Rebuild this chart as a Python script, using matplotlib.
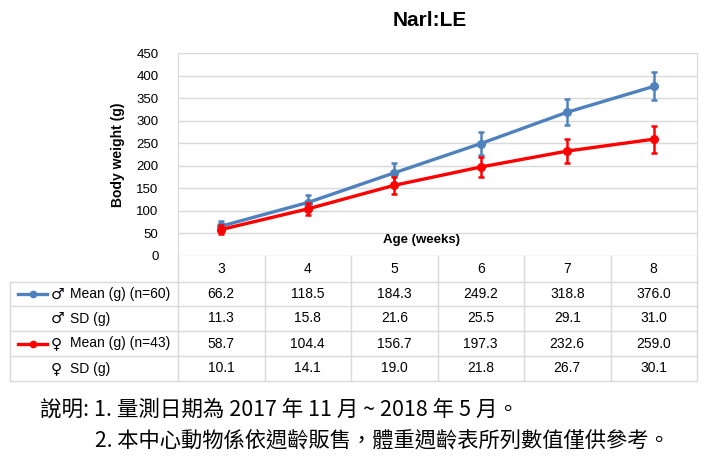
import matplotlib
matplotlib.use("Agg")
import matplotlib.pyplot as plt
from matplotlib.lines import Line2D
import matplotlib.transforms as mtransforms

# 資料
weeks = [3, 4, 5, 6, 7, 8]
male_mean = [66.2, 118.5, 184.3, 249.2, 318.8, 376.0]
male_sd = [11.3, 15.8, 21.6, 25.5, 29.1, 31.0]
female_mean = [58.7, 104.4, 156.7, 197.3, 232.6, 259.0]
female_sd = [10.1, 14.1, 19.0, 21.8, 26.7, 30.1]
row_symbols = ["\u2642", "\u2642", "\u2640", "\u2640"]
row_labels = ["Mean (g) (n=60)", "SD (g)", "Mean (g) (n=43)", "SD (g)"]
notes = ["說明: 1. 量測日期為 2017 年 11 月 ~ 2018 年 5 月。",
         "2. 本中心動物係依週齡販售，體重週齡表所列數值僅供參考。"]

BLUE = "#4f81bd"
RED = "#ff0000"
GRID = "#d9d9d9"
W, H = 705, 474

plt.rcParams['font.family'] = ['Liberation Sans', 'DejaVu Sans']

fig = plt.figure(figsize=(W / 100, H / 100), dpi=100)
fig.patch.set_facecolor('white')

# 圖區位置 (像素 -> 圖座標)
L, R, T, B = 178, 697, 53, 256
ax = fig.add_axes([L / W, 1 - B / H, (R - L) / W, (B - T) / H])

x = list(range(len(weeks)))
ax.errorbar(x, male_mean, yerr=male_sd, color=BLUE, lw=2.4, marker='o', ms=5.5,
            capsize=2.5, elinewidth=1.8, capthick=1.8, zorder=3)
ax.errorbar(x, female_mean, yerr=female_sd, color=RED, lw=2.4, marker='o', ms=5.5,
            capsize=2.5, elinewidth=1.8, capthick=1.8, zorder=4)

ax.set_xlim(-0.5, len(weeks) - 0.5)
ax.set_ylim(0, 450)
ax.set_yticks(range(0, 451, 50))
ax.yaxis.grid(True, color=GRID, lw=1)
ax.set_axisbelow(True)
ax.set_xticks([])
ax.tick_params(axis='y', length=0, labelsize=9.5, pad=14)
for s in ['top', 'bottom']:
    ax.spines[s].set_visible(False)
for s in ['left', 'right']:
    ax.spines[s].set_color(GRID)

ax.set_ylabel("Body weight (g)", fontsize=10, fontweight='bold', labelpad=8)
ax.text(0.47, 0.08, "Age (weeks)", transform=ax.transAxes, ha='center', va='center',
        fontsize=9.5, fontweight='bold')
fig.text(430 / W, 1 - 20 / H, "Narl:LE", ha='center', va='center', fontsize=15, fontweight='bold')

# 表格 (x 依資料座標, y 依像素)
def fy(py):
    return 1 - py / H

trans = mtransforms.blended_transform_factory(ax.transData, fig.transFigure)
row_edges = [256, 282, 306, 331, 356, 381]
line_kw = dict(color=GRID, lw=1, transform=fig.transFigure, clip_on=False)

for yy in row_edges[1:]:
    fig.add_artist(Line2D([10 / W, R / W], [fy(yy), fy(yy)], **line_kw))
fig.add_artist(Line2D([10 / W, 10 / W], [fy(282), fy(381)], **line_kw))
fig.add_artist(Line2D([L / W, L / W], [fy(B), fy(381)], **line_kw))
fig.add_artist(Line2D([R / W, R / W], [fy(B), fy(381)], **line_kw))
for i in range(1, len(weeks)):
    fig.add_artist(Line2D([i - 0.5, i - 0.5], [fy(B), fy(381)], color=GRID, lw=1,
                          transform=trans, clip_on=False))

centers = [(row_edges[k] + row_edges[k + 1]) / 2 for k in range(5)]
for i, wk in enumerate(weeks):
    fig.text(i, fy(centers[0]), str(wk), transform=trans, ha='center', va='center', fontsize=10)
table_rows = [male_mean, male_sd, female_mean, female_sd]
for r, vals in enumerate(table_rows):
    for i, v in enumerate(vals):
        fig.text(i, fy(centers[r + 1]), f"{v:.1f}", transform=trans, ha='center', va='center',
                 fontsize=10)
    # 性別符號用 DejaVu Sans 顯示
    fig.text(51 / W, fy(centers[r + 1]), row_symbols[r], ha='left', va='center', fontsize=11,
             family=['DejaVu Sans'])
    fig.text(70 / W, fy(centers[r + 1]), row_labels[r], ha='left', va='center', fontsize=10)

for r, c in [(0, BLUE), (2, RED)]:
    yy = fy(centers[r + 1])
    fig.add_artist(Line2D([18 / W, 47 / W], [yy, yy], color=c, lw=2.4, transform=fig.transFigure))
    fig.add_artist(Line2D([32.5 / W], [yy], color=c, marker='o', ms=4.5, transform=fig.transFigure))

cjk = ['Noto Sans CJK TC', 'DejaVu Sans']
fig.text(40 / W, fy(410), notes[0], ha='left', va='center', fontsize=15.5, family=cjk,
         fontweight='medium')
fig.text(95 / W, fy(442), notes[1], ha='left', va='center', fontsize=15.3, family=cjk,
         fontweight='medium')

fig.savefig("out.png", dpi=100, facecolor='white')
